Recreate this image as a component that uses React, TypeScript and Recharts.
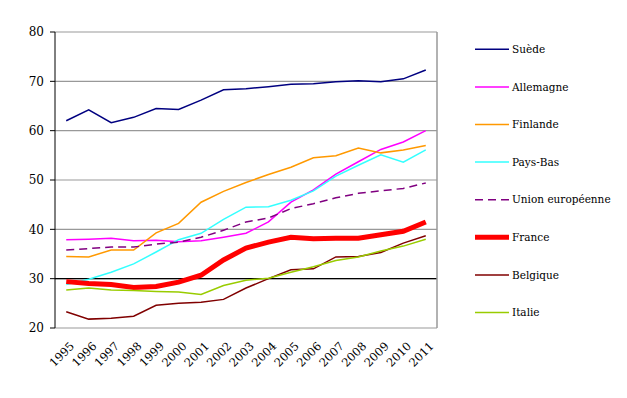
import React from "react";
import { LineChart, Line, XAxis, YAxis, CartesianGrid, ReferenceLine } from "recharts";

const years = ["1995","1996","1997","1998","1999","2000","2001","2002","2003","2004","2005","2006","2007","2008","2009","2010","2011"];

const suede = [62.0,64.2,61.6,62.7,64.5,64.3,66.2,68.3,68.5,68.9,69.4,69.5,69.9,70.1,69.9,70.5,72.3];
const allemagne = [37.9,38.0,38.2,37.7,37.8,37.5,37.7,38.4,39.2,41.5,45.5,48.0,51.2,53.7,56.2,57.7,60.0];
const finlande = [34.5,34.4,35.8,35.8,39.3,41.2,45.5,47.7,49.5,51.1,52.6,54.5,54.9,56.5,55.5,56.1,57.0];
const paysBas = [28.8,29.9,31.3,33.0,35.4,37.9,39.2,42.0,44.5,44.6,45.9,47.8,50.8,53.0,55.1,53.6,56.1];
const ue = [35.8,36.1,36.4,36.4,37.0,37.4,38.4,39.8,41.5,42.3,44.2,45.2,46.4,47.3,47.8,48.3,49.4];
const france = [29.4,29.0,28.8,28.2,28.4,29.3,30.7,33.8,36.2,37.4,38.4,38.1,38.2,38.2,38.9,39.6,41.5];
const belgique = [23.3,21.8,22.0,22.4,24.6,25.0,25.2,25.8,28.1,30.0,31.8,32.0,34.4,34.5,35.3,37.2,38.7];
const italie = [27.7,28.1,27.7,27.6,27.4,27.3,26.8,28.6,29.7,30.1,31.3,32.4,33.7,34.4,35.6,36.6,38.0];

const yTicks = [20,30,40,50,60,70,80];

const series = [
  { key: "suede", name: "Suède", values: suede, color: "#000080", width: 1.5, dash: undefined as string | undefined },
  { key: "allemagne", name: "Allemagne", values: allemagne, color: "#FF00FF", width: 1.5, dash: undefined },
  { key: "finlande", name: "Finlande", values: finlande, color: "#FF9900", width: 1.5, dash: undefined },
  { key: "paysBas", name: "Pays-Bas", values: paysBas, color: "#33FFFF", width: 1.5, dash: undefined },
  { key: "ue", name: "Union européenne", values: ue, color: "#800080", width: 1.5, dash: "8 5" },
  { key: "france", name: "France", values: france, color: "#FF0000", width: 5, dash: undefined },
  { key: "belgique", name: "Belgique", values: belgique, color: "#800000", width: 1.5, dash: undefined },
  { key: "italie", name: "Italie", values: italie, color: "#99CC00", width: 1.5, dash: undefined },
];

const data = years.map((y, i) => {
  const row: any = { x: i, year: y };
  series.forEach((s) => { row[s.key] = s.values[i]; });
  return row;
});

const labelTicks = years.map((_, i) => i);
const boundaryTicks = [...years.map((_, i) => i - 0.5), years.length - 0.5];

const FONT = "DejaVu Serif";

const XLabel = (props: any) => {
  const { x, y, payload } = props;
  return (
    <text x={x + 3} y={y + 5} textAnchor="end" fontSize={11.5} fontFamily={FONT} fill="#000"
      transform={`rotate(-45, ${x + 3}, ${y + 5})`} dy="0.71em">
      {years[payload.value]}
    </text>
  );
};

export default function App() {
  return (
    <div style={{ position: "fixed", left: 0, top: 0, width: 627, height: 398, background: "#fff" }}>
      <LineChart width={627} height={398} data={data} margin={{ top: 32, right: 190, left: 0, bottom: 0 }}>
        <CartesianGrid vertical={false} stroke="#999999" strokeWidth={1.2} />
        <ReferenceLine y={30} stroke="#000" strokeWidth={1.2} />
        <ReferenceLine x={16.5} stroke="#999999" strokeWidth={1.5} />
        <XAxis xAxisId="b" dataKey="x" type="number" domain={[-0.5, 16.5]} ticks={boundaryTicks}
          height={0} tick={() => <g />} tickSize={4} axisLine={{ stroke: "#000" }} tickLine={{ stroke: "#000" }} allowDataOverflow />
        <XAxis dataKey="x" type="number" domain={[-0.5, 16.5]} ticks={labelTicks} interval={0}
          height={70} tick={<XLabel />} tickLine={false} axisLine={false} allowDataOverflow />
        <YAxis domain={[20, 80]} ticks={yTicks} width={55} tickSize={5} tickMargin={6}
          axisLine={{ stroke: "#000" }} tickLine={{ stroke: "#000" }}
          tick={{ fontSize: 12, fill: "#000", fontFamily: FONT }} />
        {series.map((s) => (
          <Line key={s.key} dataKey={s.key} name={s.name} type="linear" stroke={s.color} strokeWidth={s.width}
            strokeDasharray={s.dash} dot={false} activeDot={false} isAnimationActive={false} />
        ))}
      </LineChart>
      <svg width={627} height={398} style={{ position: "absolute", left: 0, top: 0, pointerEvents: "none" }}>
        {series.map((s, i) => {
          const cy = 49.3 + i * 37.6;
          return (
            <g key={s.key}>
              <line x1={475} x2={509} y1={cy} y2={cy} stroke={s.color} strokeWidth={s.width} strokeDasharray={s.dash} />
              <text x={512} y={cy} dy="0.35em" fontSize={10.5} fontFamily={FONT} fill="#000">{s.name}</text>
            </g>
          );
        })}
      </svg>
    </div>
  );
}
